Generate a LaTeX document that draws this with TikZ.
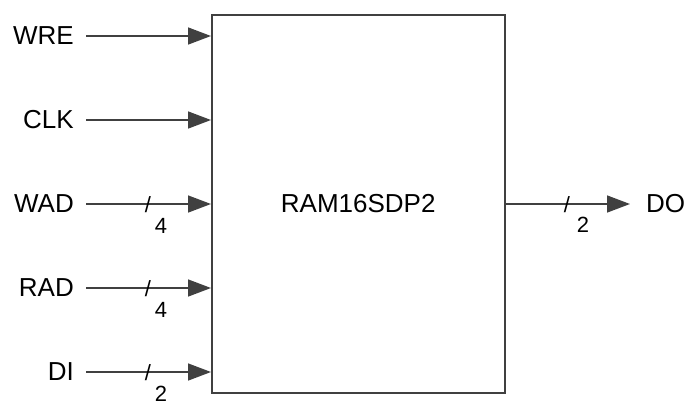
\documentclass[tikz,border=0pt]{standalone}
\usepackage{fontspec}
\setmainfont{Liberation Sans}
\usetikzlibrary{arrows.meta}
\definecolor{ln}{HTML}{404040}
\tikzset{
  lbl/.style={anchor=east,inner sep=0pt,font=\fontsize{26}{30}\selectfont},
  num/.style={inner sep=0pt,font=\fontsize{22}{26}\selectfont},
  slash/.style={inner sep=0pt,font=\fontsize{22}{26}\selectfont},
  wire/.style={draw=ln,line width=1.5pt},
  arr/.style={wire,-{Triangle[length=23pt,width=17pt,fill=ln]}},
}
\begin{document}
\begin{tikzpicture}[x=1pt,y=-1pt]
\useasboundingbox (0,0) rectangle (686,400);
\node[draw=ln,line width=1.5pt,minimum width=293pt,minimum height=378pt,inner sep=0pt,anchor=north west,font=\fontsize{26}{30}\selectfont] (box) at (211,14) {RAM16SDP2};
% inputs
\node[lbl] (wre) at (74,36) {WRE};
\node[lbl] (clk) at (74,120) {CLK};
\node[lbl] (wad) at (74,204) {WAD};
\node[lbl] (rad) at (74,288) {RAD};
\node[lbl] (di) at (74,372) {DI};
\foreach \n in {wre,clk,wad,rad,di}{
  \draw[arr] ([xshift=12pt]\n.east) -- (\n.east -| box.west);
}
% bus marks
\node[slash] (wads) at (148,205) {/};
\node[num] (wadn) at (161,226) {4};
\node[slash] (rads) at (148,289) {/};
\node[num] (radn) at (161,310) {4};
\node[slash] (dis) at (148,373) {/};
\node[num] (din) at (161,394) {2};
% output
\node[lbl,anchor=west] (do) at (646,204) {DO};
\coordinate (doend) at (630,204);
\draw[arr] (box.east |- doend) -- (doend);
\node[slash] (dos) at (567,205) {/};
\node[num] (don) at (583,225) {2};
\end{tikzpicture}
\end{document}
